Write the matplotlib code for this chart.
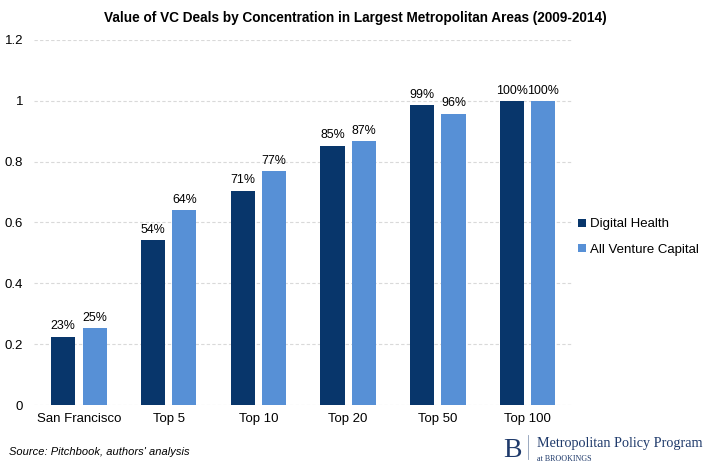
import matplotlib

matplotlib.use("Agg")

import matplotlib.pyplot as plt
import numpy as np

categories = ["San Francisco", "Top 5", "Top 10", "Top 20", "Top 50", "Top 100"]
digital_health = [0.225, 0.543, 0.705, 0.853, 0.987, 0.998]
all_vc = [0.253, 0.641, 0.770, 0.867, 0.958, 0.998]
dh_labels = ["23%", "54%", "71%", "85%", "99%", "100%"]
vc_labels = ["25%", "64%", "77%", "87%", "96%", "100%"]

DARK = "#08366B"
LIGHT = "#5790D6"

plt.rcParams["font.family"] = ["Liberation Sans", "DejaVu Sans"]

fig = plt.figure(figsize=(7.11, 4.68), dpi=100)
ax = fig.add_axes([0.048, 0.1346, 0.757, 0.78])

x = np.arange(len(categories))
w = 0.27
off = 0.175
ax.bar(x - off, digital_health, w, color=DARK, label="Digital Health", zorder=3)
ax.bar(x + off, all_vc, w, color=LIGHT, label="All Venture Capital", zorder=3)

for xi, v, t in zip(x - off, digital_health, dh_labels):
    ax.text(xi, v + 0.014, t, ha="center", va="bottom", fontsize=8.9)
for xi, v, t in zip(x + off, all_vc, vc_labels):
    ax.text(xi, v + 0.014, t, ha="center", va="bottom", fontsize=8.9)

ax.set_xlim(-0.5, 5.5)
ax.set_ylim(0, 1.2)
ax.set_yticks([0, 0.2, 0.4, 0.6, 0.8, 1.0, 1.2])
ax.set_yticklabels(["0", "0.2", "0.4", "0.6", "0.8", "1", "1.2"])
ax.set_xticks(x)
ax.set_xticklabels(categories)
ax.tick_params(axis="both", length=0, labelsize=9.5)
ax.tick_params(axis="y", pad=8)
ax.tick_params(axis="x", pad=6)
ax.yaxis.grid(True, color="#D9D9D9", linestyle=(0, (3, 2)), linewidth=0.8, zorder=0)
for s in ax.spines.values():
    s.set_visible(False)

leg = ax.legend(loc="center left", bbox_to_anchor=(0.989, 0.46), frameon=False,
                fontsize=9.5, handlelength=0.6, handleheight=0.6,
                handletextpad=0.3, labelspacing=1.0)

fig.text(0.5, 0.962, "Value of VC Deals by Concentration in Largest Metropolitan Areas (2009-2014)",
         ha="center", va="center", fontsize=9.8, fontweight="bold")
fig.text(0.012, 0.035, "Source: Pitchbook, authors' analysis", fontsize=8, style="italic",
         ha="left", va="center")

# logo
fig.text(0.708, 0.038, "B", family="Liberation Serif", fontsize=20, color="#1F3A6B",
         ha="left", va="center")
fig.add_artist(plt.Line2D([0.742, 0.742], [0.02, 0.07], color="#8A9BB5", linewidth=0.6))
fig.text(0.755, 0.052, "Metropolitan Policy Program", family="Liberation Serif",
         fontsize=10.2, color="#1F3A6B", ha="left", va="center")
fig.text(0.755, 0.02, "at BROOKINGS", family="Liberation Serif", fontsize=5.8,
         color="#1F3A6B", ha="left", va="center")

fig.savefig("out.png", dpi=100)
